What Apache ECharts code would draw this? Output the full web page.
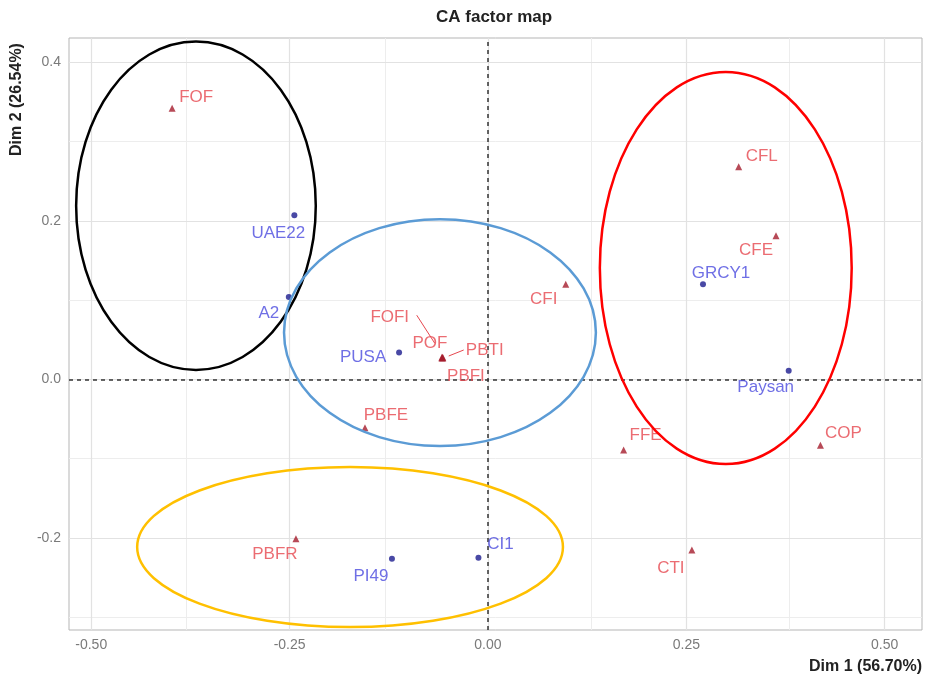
<!DOCTYPE html>
<html>
<head>
<meta charset="utf-8">
<script src="https://cdn.jsdelivr.net/npm/echarts@6/dist/echarts.min.js"></script>
<style>html,body{margin:0;padding:0;background:#fff}#c{width:925px;height:681px}</style>
</head>
<body>
<div id="c"></div>
<script>
// ---- data ----
const rowNames = ['UAE22', 'A2', 'PUSA', 'GRCY1', 'Paysan', 'PI49', 'CI1'];
const rowDim1  = [-0.244, -0.251, -0.112, 0.271, 0.379, -0.121, -0.012];
const rowDim2  = [0.207, 0.104, 0.034, 0.120, 0.011, -0.226, -0.225];

const colNames = ['FOF', 'CFL', 'CFE', 'CFI', 'FOFI', 'POF', 'PBTI', 'PBFI', 'PBFE', 'FFE', 'COP', 'PBFR', 'CTI'];
const colDim1  = [-0.398, 0.316, 0.363, 0.098, -0.057, -0.058, -0.057, -0.058, -0.155, 0.171, 0.419, -0.242, 0.257];
const colDim2  = [0.342, 0.268, 0.181, 0.120, 0.028, 0.027, 0.027, 0.028, -0.061, -0.089, -0.083, -0.201, -0.215];

const xTicks = [-0.5, -0.25, 0, 0.25, 0.5];
const yTicks = [-0.2, 0, 0.2, 0.4];
const xMinor = [-0.375, -0.125, 0.125, 0.375];
const yMinor = [-0.3, -0.1, 0.1, 0.3];

// group ellipses: [centre dim1, centre dim2, radius dim1, radius dim2]
const groupEllipses = [
  [-0.368, 0.219, 0.151, 0.207],
  [-0.0605, 0.059, 0.1965, 0.143],
  [0.2997, 0.1405, 0.1587, 0.2472],
  [-0.1738, -0.2114, 0.2683, 0.1009]
];
const ellipseColors = ['#000000', '#5B9BD5', '#FF0000', '#FFC000'];

// label placement (pixel offsets from the point)
const labelOffsets = {
  UAE22: [-16, 18], A2: [-20, 16], PUSA: [-36, 5], GRCY1: [18, -11], Paysan: [-23, 17],
  PI49: [-21, 18], CI1: [22, -14],
  FOF: [24, -11], CFL: [23, -11], CFE: [-20, 14], CFI: [-22, 15], FOFI: [-53, -40],
  POF: [-12, -15], PBTI: [42, -8], PBFI: [24, 19], PBFE: [21, -12], FFE: [22, -15],
  COP: [23, -12], PBFR: [-21, 16], CTI: [-21, 18]
};
const connectors = { FOFI: [[-26, -42], [-8, -14]], PBTI: [[6, -2], [21, -8]] };

const chart = echarts.init(document.getElementById('c'));

const rowData = rowNames.map((n, i) => ({ name: n, value: [rowDim1[i], rowDim2[i]], label: { offset: labelOffsets[n] } }));
const colData = colNames.map((n, i) => ({ name: n, value: [colDim1[i], colDim2[i]], label: { offset: labelOffsets[n] } }));
const connData = colNames.map((n, i) => [colDim1[i], colDim2[i], n]).filter(d => connectors[d[2]]);

const gridLine = (axis, v, major) => ({ [axis]: v, lineStyle: { color: major ? '#E2E2E2' : '#EDEDED', width: major ? 1.2 : 1, type: 'solid' } });
const FONT = 'Liberation Sans, Arial, sans-serif';

const option = {
  animation: false,
  textStyle: { fontFamily: FONT },
  grid: { left: 69, right: 3, top: 38, bottom: 51, show: true, borderColor: '#B5B5B5', borderWidth: 1, backgroundColor: '#fff' },
  xAxis: {
    type: 'value', min: -0.528, max: 0.547,
    splitLine: { show: false }, axisLine: { show: false },
    axisTick: { show: true, customValues: xTicks, length: 4, lineStyle: { color: '#B5B5B5' } },
    axisLabel: { customValues: xTicks, formatter: v => v.toFixed(2), color: '#7A7A7A', fontSize: 14, margin: 8 }
  },
  yAxis: {
    type: 'value', min: -0.316, max: 0.4305,
    splitLine: { show: false }, axisLine: { show: false },
    axisTick: { show: true, customValues: yTicks, length: 4, lineStyle: { color: '#B5B5B5' } },
    axisLabel: { customValues: yTicks, formatter: v => v.toFixed(1), color: '#7A7A7A', fontSize: 14, margin: 8 }
  },
  graphic: [
    { type: 'text', left: 436, top: 9, style: { text: 'CA factor map', fontSize: 17, fontWeight: 'bold', fill: '#222', fontFamily: FONT } },
    { type: 'text', right: 3, top: 659, style: { text: 'Dim 1 (56.70%)', fontSize: 16, fontWeight: 'bold', fill: '#222', fontFamily: FONT } },
    { type: 'text', x: 9, y: 156, rotation: Math.PI / 2, style: { text: 'Dim 2 (26.54%)', fontSize: 16, fontWeight: 'bold', fill: '#222', align: 'left', verticalAlign: 'top', fontFamily: FONT } }
  ],
  series: [
    {
      type: 'scatter', data: [], silent: true, z: 1,
      markLine: {
        silent: true, symbol: 'none', label: { show: false }, animation: false, z: 1,
        data: [
          ...xMinor.map(v => gridLine('xAxis', v, false)),
          ...yMinor.map(v => gridLine('yAxis', v, false)),
          ...xTicks.map(v => gridLine('xAxis', v, true)),
          ...yTicks.map(v => gridLine('yAxis', v, true)),
          { xAxis: 0, lineStyle: { color: '#333', width: 1.5, type: [4, 4] } },
          { yAxis: 0, lineStyle: { color: '#333', width: 1.5, type: [4, 4] } }
        ]
      }
    },
    {
      type: 'custom', z: 3, silent: true,
      data: connData,
      renderItem: (params, api) => {
        const p = api.coord([api.value(0), api.value(1)]);
        const c = connectors[connData[params.dataIndex][2]];
        return { type: 'line', shape: { x1: p[0] + c[0][0], y1: p[1] + c[0][1], x2: p[0] + c[1][0], y2: p[1] + c[1][1] }, style: { stroke: '#E6474F', lineWidth: 1 } };
      }
    },
    {
      type: 'scatter', name: 'rows', z: 4, symbol: 'circle', symbolSize: 6,
      itemStyle: { color: '#1C1C8E' },
      label: { show: true, position: 'inside', formatter: '{b}', color: '#4B4BDE', fontSize: 17 },
      data: rowData
    },
    {
      type: 'scatter', name: 'cols', z: 4, symbol: 'triangle', symbolSize: 7,
      itemStyle: { color: '#A51D2D' },
      label: { show: true, position: 'inside', formatter: '{b}', color: '#E6474F', fontSize: 17 },
      data: colData
    },
    {
      type: 'custom', z: 6, silent: true,
      data: groupEllipses,
      renderItem: (params, api) => {
        const c = api.coord([api.value(0), api.value(1)]);
        const s = api.size([api.value(2), api.value(3)]);
        return { type: 'ellipse', shape: { cx: c[0], cy: c[1], rx: s[0], ry: s[1] }, style: { fill: 'none', stroke: ellipseColors[params.dataIndex], lineWidth: 2.5 } };
      }
    }
  ]
};
chart.setOption(option);
</script>
</body>
</html>
